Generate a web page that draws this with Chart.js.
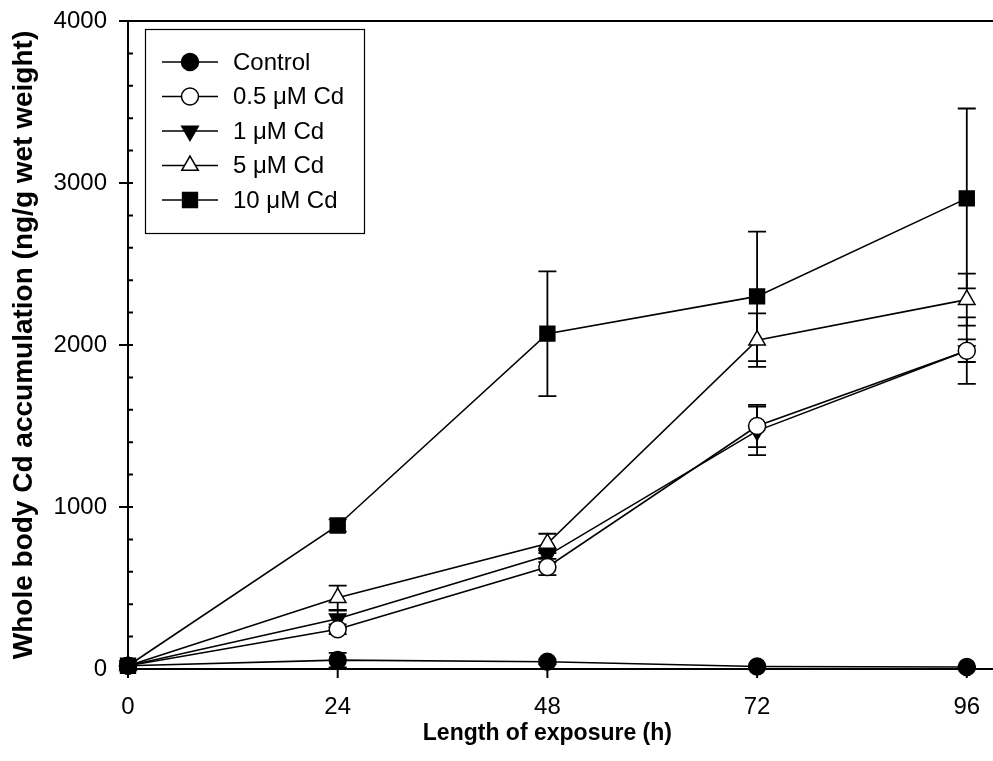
<!DOCTYPE html>
<html>
<head>
<meta charset="utf-8">
<script src="https://cdn.jsdelivr.net/npm/chart.js@4/dist/chart.umd.min.js"></script>
<style>
  html, body { margin: 0; padding: 0; background: #fff; }
  #wrap { width: 993px; height: 761px; }
</style>
</head>
<body>
<div id="wrap"><canvas id="chart" width="993" height="761"></canvas></div>
<script>
// exposure time (h)
const hours = [0, 24, 48, 72, 96];
const xTicks = [0, 24, 48, 72, 96];

// whole body Cd (ng/g wet weight), mean and error
const control = [20, 55, 45, 15, 12];
const controlErr = [10, 45, 15, 5, 5];
const cd05 = [20, 245, 630, 1500, 1965];
const cd05Err = [5, 30, 50, 130, 70];
const cd1 = [20, 310, 700, 1470, 1965];
const cd1Err = [5, 50, 40, 150, 205];
const cd5 = [20, 440, 775, 2030, 2280];
const cd5Err = [5, 75, 60, 165, 160];
const cd10 = [20, 886, 2070, 2300, 2905];
const cd10Err = [5, 38, 385, 400, 555];

const labels = ['Control', '0.5 \u03bcM Cd', '1 \u03bcM Cd', '5 \u03bcM Cd', '10 \u03bcM Cd'];
const xTitle = 'Length of exposure (h)';
const yTitle = 'Whole body Cd accumulation (ng/g wet weight)';

const FONT = '"Liberation Sans", Arial, sans-serif';

const makeSet = (label, values, errors, style, fill, rotation, radius) => ({
    label: label,
    data: hours.map((h, i) => ({ x: h, y: values[i] })),
    errors: errors,
    borderColor: '#000',
    borderWidth: 1.6,
    pointStyle: style,
    pointRotation: rotation,
    pointRadius: radius,
    pointHoverRadius: radius,
    pointBackgroundColor: fill,
    pointBorderColor: '#000',
    pointBorderWidth: 1.5,
    tension: 0,
    clip: false
});

const datasets = [
    makeSet(labels[0], control, controlErr, 'circle', '#000', 0, 8.5),
    makeSet(labels[1], cd05, cd05Err, 'circle', '#fff', 0, 8.5),
    makeSet(labels[2], cd1, cd1Err, 'triangle', '#000', 180, 9.5),
    makeSet(labels[3], cd5, cd5Err, 'triangle', '#fff', 0, 9.5),
    makeSet(labels[4], cd10, cd10Err, 'rect', '#000', 0, 10.5)
];

// error bars, axis ticks, frame top line, x title and legend
const decorations = {
    id: 'decorations',
    beforeDatasetsDraw(chart) {
        const ctx = chart.ctx;
        const xs = chart.scales.x, ys = chart.scales.y;
        ctx.save();
        ctx.strokeStyle = '#000';
        ctx.lineWidth = 1.8;
        chart.data.datasets.forEach(ds => {
            ds.data.forEach((p, i) => {
                const e = ds.errors[i];
                const px = xs.getPixelForValue(p.x);
                const top = ys.getPixelForValue(p.y + e);
                const bot = ys.getPixelForValue(p.y - e);
                ctx.beginPath();
                ctx.moveTo(px, top); ctx.lineTo(px, bot);
                ctx.moveTo(px - 9, top); ctx.lineTo(px + 9, top);
                ctx.moveTo(px - 9, bot); ctx.lineTo(px + 9, bot);
                ctx.stroke();
            });
        });
        ctx.restore();
    },
    afterDraw(chart) {
        const ctx = chart.ctx;
        const xs = chart.scales.x, ys = chart.scales.y;
        const area = chart.chartArea;
        ctx.save();
        ctx.strokeStyle = '#000';
        ctx.lineWidth = 2;
        ctx.beginPath();
        // top line of the frame
        ctx.moveTo(area.left - 9, area.top);
        ctx.lineTo(chart.width, area.top);
        // y ticks: major cross the axis, minor inside
        for (let v = 0; v <= 4000; v += 200) {
            const py = ys.getPixelForValue(v);
            if (v % 1000 === 0) {
                ctx.moveTo(area.left - 9, py); ctx.lineTo(area.left + 5, py);
            } else {
                ctx.moveTo(area.left, py); ctx.lineTo(area.left + 5, py);
            }
        }
        // x ticks below the axis
        xTicks.forEach(t => {
            const px = xs.getPixelForValue(t);
            ctx.moveTo(px, area.bottom); ctx.lineTo(px, area.bottom + 9);
        });
        ctx.stroke();

        // x title, centred under the 0-96 span
        const first = xs.getPixelForValue(xTicks[0]);
        const last = xs.getPixelForValue(xTicks[xTicks.length - 1]);
        ctx.fillStyle = '#000';
        ctx.font = 'bold 23px ' + FONT;
        ctx.textAlign = 'center';
        ctx.textBaseline = 'middle';
        ctx.fillText(xTitle, (first + last) / 2, 734);

        // legend box
        const bx = 145, by = 29, bw = 219, bh = 204;
        ctx.lineWidth = 1.2;
        ctx.strokeRect(bx + 0.5, by + 0.5, bw, bh);
        ctx.font = '24px ' + FONT;
        ctx.textAlign = 'left';
        chart.data.datasets.forEach((ds, i) => {
            const cy = 62 + i * 34.5;
            ctx.lineWidth = 1.6;
            ctx.beginPath();
            ctx.moveTo(162, cy); ctx.lineTo(218, cy);
            ctx.stroke();
            ctx.fillStyle = ds.pointBackgroundColor;
            ctx.lineWidth = 1.5;
            Chart.helpers.drawPoint(ctx, {
                pointStyle: ds.pointStyle,
                rotation: ds.pointRotation,
                radius: ds.pointRadius,
                borderWidth: 1.5
            }, 190, cy);
            ctx.fillStyle = '#000';
            ctx.fillText(ds.label, 233, cy + 1);
        });
        ctx.restore();
    }
};

new Chart(document.getElementById('chart'), {
    type: 'line',
    data: { datasets: datasets },
    options: {
        responsive: false,
        animation: false,
        events: [],
        layout: { autoPadding: false, padding: { top: 21, right: 0, left: 0, bottom: 0 } },
        plugins: { legend: { display: false }, tooltip: { enabled: false } },
        scales: {
            x: {
                type: 'linear',
                min: 0,
                max: 99,
                afterBuildTicks: scale => { scale.ticks = xTicks.map(v => ({ value: v })); },
                afterFit: scale => {
                    scale.height = 92;
                    scale.paddingLeft = 0;
                    scale.paddingRight = 0;
                },
                grid: { display: false, drawTicks: false },
                border: { display: true, color: '#000', width: 2 },
                ticks: { color: '#000', font: { family: FONT, size: 24 }, padding: 24, maxRotation: 0 },
                title: { display: false }
            },
            y: {
                min: 0,
                max: 4000,
                afterFit: scale => {
                    scale.width = 128;
                    scale.paddingTop = 0;
                    scale.paddingBottom = 0;
                },
                grid: { display: false, drawTicks: false },
                border: { display: true, color: '#000', width: 2 },
                ticks: {
                    stepSize: 1000,
                    color: '#000',
                    font: { family: FONT, size: 24 },
                    padding: 21,
                    callback: v => String(v)
                },
                title: {
                    display: true,
                    text: yTitle,
                    color: '#000',
                    font: { family: FONT, size: 28, weight: 'bold' },
                    padding: { top: 7, bottom: 4 }
                }
            }
        }
    },
    plugins: [decorations]
});
</script>
</body>
</html>
